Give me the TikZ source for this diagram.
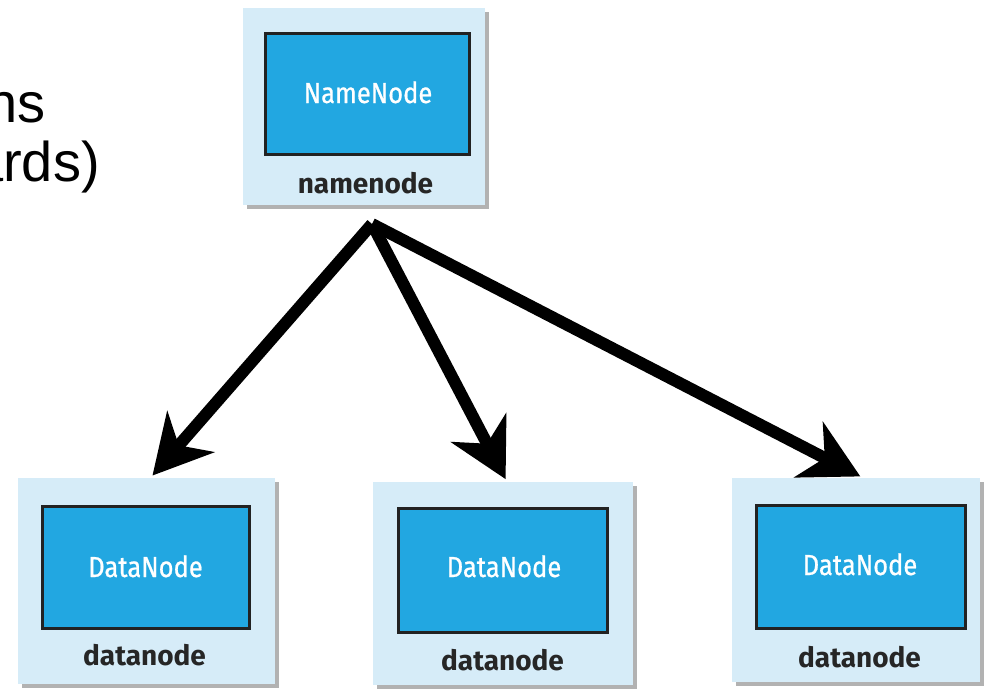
\documentclass[tikz,border=0pt]{standalone}
\usepackage{fontspec}
\setmainfont{Liberation Sans}
\newfontfamily\boxfont{Fira Sans}
\newfontfamily\boxfontw{Fira Sans}[FakeBold=0.8]
\usetikzlibrary{arrows.meta,shadows}
\definecolor{outerblue}{HTML}{D6ECF8}
\definecolor{innerblue}{HTML}{22A7E1}
\definecolor{labelgray}{HTML}{262626}
\definecolor{edgegray}{HTML}{222222}
\newcommand{\condtext}[1]{\scalebox{0.88}[1]{#1}}
\begin{document}
\begin{tikzpicture}[x=1pt,y=-1pt,
  outerbox/.style={fill=outerblue, draw=none, inner sep=0pt,
    drop shadow={shadow xshift=4pt, shadow yshift=-4pt, fill=black, opacity=0.3}},
  innerbox/.style={fill=innerblue, draw=edgegray, line width=3pt, inner sep=0pt},
  whitelabel/.style={anchor=base, inner sep=0pt, text=white,
    font=\boxfontw\fontsize{29}{29}\selectfont},
  boldlabel/.style={anchor=base, inner sep=0pt, text=labelgray,
    font=\boxfont\bfseries\fontsize{28}{28}\selectfont},
  bigarrow/.style={line width=12pt, -{Stealth[length=58pt, width=62pt, inset=18pt]}, shorten >=3pt},
  slidetext/.style={anchor=base east, inner sep=0pt, font=\fontsize{56}{56}\selectfont}
]
\useasboundingbox (0,0) rectangle (986,691);

% cut-off slide text
\node[slidetext] (s1) at (46,122) {ns};
\node[slidetext] (s2) at (100,181) {ards)};

% namenode
\node[outerbox, minimum width=242pt, minimum height=197pt] (nn) at (364,106.5) {};
\node[innerbox, minimum width=204pt, minimum height=121pt] (nnin) at (367,93.5) {};
\node[whitelabel] (nnt) at (368,103) {\condtext{NameNode}};
\node[boldlabel] (nnl) at (365.5,193) {namenode};

% datanode 1
\node[outerbox, minimum width=257pt, minimum height=206pt] (dn1) at (146.5,581) {};
\node[innerbox, minimum width=207pt, minimum height=122pt] (dn1in) at (145.5,567) {};
\node[whitelabel] (dn1t) at (145.5,577) {\condtext{DataNode}};
\node[boldlabel] (dn1l) at (144.5,665) {datanode};

% datanode 2
\node[outerbox, minimum width=260pt, minimum height=203pt] (dn2) at (503,583.5) {};
\node[innerbox, minimum width=209pt, minimum height=124pt] (dn2in) at (502.5,570) {};
\node[whitelabel] (dn2t) at (504,577) {\condtext{DataNode}};
\node[boldlabel] (dn2l) at (502.5,670) {datanode};

% datanode 3
\node[outerbox, minimum width=248pt, minimum height=204pt] (dn3) at (856,580) {};
\node[innerbox, minimum width=209pt, minimum height=123pt] (dn3in) at (860.5,566.5) {};
\node[whitelabel] (dn3t) at (860,575) {\condtext{DataNode}};
\node[boldlabel] (dn3l) at (859.5,667) {datanode};

% arrows
\coordinate (src) at (372,224);
\draw[bigarrow] (src) -- ([xshift=4pt]dn1.north);
\draw[bigarrow] (src) -- ([xshift=4pt]dn2.north);
\draw[bigarrow] (src) -- ([xshift=7pt]dn3.north);
\end{tikzpicture}
\end{document}
